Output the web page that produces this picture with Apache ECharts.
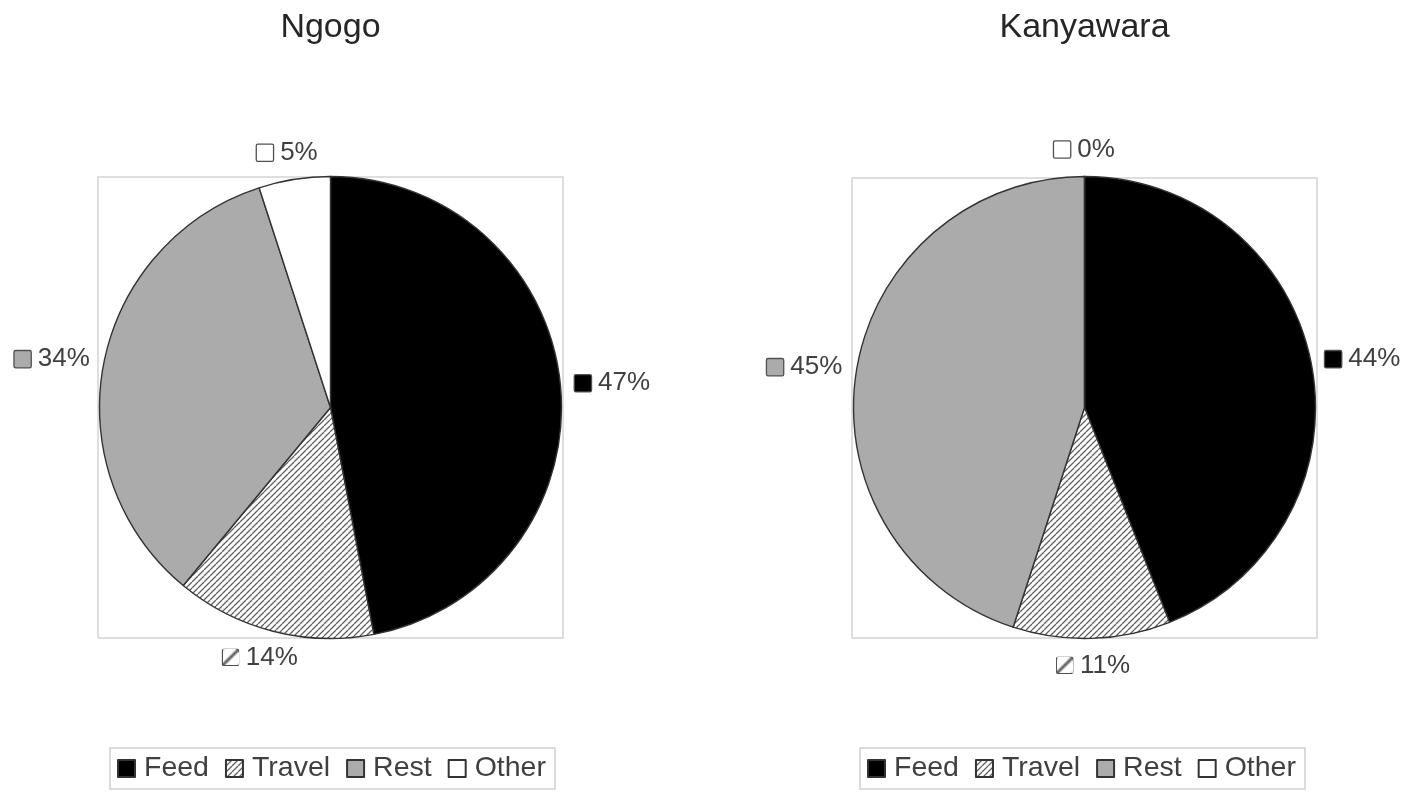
<!DOCTYPE html>
<html><head><meta charset="utf-8">
<script src="https://cdn.jsdelivr.net/npm/echarts@6/dist/echarts.min.js"></script>
<style>html,body{margin:0;padding:0;background:#fff}#c{width:1420px;height:792px}</style>
</head><body><div id="c"></div>
<script>
// ---- data ----
const categories = ['Feed', 'Travel', 'Rest', 'Other'];
const siteNames = ['Ngogo', 'Kanyawara'];
const ngogoValues = [47, 14, 34, 5];
const kanyawaraValues = [44, 11, 45, 0];
const seriesValues = [ngogoValues, kanyawaraValues];

// ---- layout / style ----
const FONT = 'Liberation Sans, Arial, sans-serif';
const centersX = [330.5, 1084.5];
const centerY = 407.5;
const R = 231;
const boxes = [
  {x: 98, y: 177, width: 465, height: 461},
  {x: 852, y: 178, width: 465, height: 460}
];
const legendLefts = [110, 860];

function hatchTile(size, lw, color) {
  const c = document.createElement('canvas');
  c.width = size; c.height = size;
  const g = c.getContext('2d');
  g.fillStyle = '#ffffff'; g.fillRect(0, 0, size, size);
  g.strokeStyle = color; g.lineWidth = lw;
  g.beginPath();
  for (let k = -size; k <= size; k += size) { g.moveTo(k, size); g.lineTo(k + size, 0); }
  g.stroke();
  return c;
}
const hatch = hatchTile(6, 1.3, '#606060');
const hatchIcon = hatchTile(10, 1.6, '#555555');

const fills = ['#000000', {image: hatch, repeat: 'repeat'}, '#ababab', '#ffffff'];
const iconBgs = ['#000000', {image: hatchIcon}, '#ababab', '#ffffff'];

const rich = {t: {fontSize: 26, color: '#404040', fontFamily: FONT}};
categories.forEach((c, i) => {
  rich['i' + i] = {width: 16, height: 16, backgroundColor: iconBgs[i], borderColor: '#505050', borderWidth: 1.3, borderRadius: 1};
});

const chart = echarts.init(document.getElementById('c'));
const option = {
  backgroundColor: '#ffffff',
  animation: false,
  title: siteNames.map((t, s) => ({
    text: t, left: centersX[s], textAlign: 'center', top: 11, padding: 0,
    textStyle: {fontSize: 34, fontWeight: 'normal', color: '#262626', fontFamily: FONT}
  })),
  legend: [0, 1].map(s => ({
    left: legendLefts[s], top: 748, orient: 'horizontal', icon: 'rect',
    itemWidth: 17, itemHeight: 17, itemGap: 16, selectedMode: false,
    padding: [6, 9, 6, 7], borderColor: '#d0d0d0', borderWidth: 1.5,
    textStyle: {fontSize: 28.5, color: '#404040', fontFamily: FONT, padding: [0, 0, 0, 4]},
    data: categories
  })),
  graphic: boxes.map(b => ({
    type: 'rect', shape: b, silent: true, z: 0,
    style: {fill: 'none', stroke: '#d4d4d4', lineWidth: 1.5}
  })),
  series: seriesValues.map((vals, s) => ({
    type: 'pie', name: siteNames[s],
    center: [centersX[s], centerY], radius: R,
    startAngle: 90, clockwise: true, avoidLabelOverlap: false, silent: true,
    itemStyle: {borderColor: '#333333', borderWidth: 1.4},
    emphasis: {disabled: true},
    label: {
      show: true, position: 'outside',
      formatter: p => '{i' + p.dataIndex + '|}{t| ' + p.value + '%}',
      rich: rich
    },
    labelLine: {show: false},
    labelLayout: function (p) {
      const total = vals.reduce((a, b) => a + b, 0);
      let cum = 0;
      for (let k = 0; k < p.dataIndex; k++) cum += vals[k];
      const mid = (cum + vals[p.dataIndex] / 2) / total * 2 * Math.PI;
      const dx = Math.sin(mid), dy = -Math.cos(mid);
      const hw = p.labelRect.width / 2, hh = p.labelRect.height / 2;
      const gap = 14;
      return {
        x: centersX[s] + dx * (R + gap + hw),
        y: centerY + dy * (R + gap) + dy * hh,
        align: 'center', verticalAlign: 'middle'
      };
    },
    data: categories.map((name, i) => ({name: name, value: vals[i], itemStyle: {color: fills[i]}}))
  }))
};
chart.setOption(option);
</script>
</body></html>
